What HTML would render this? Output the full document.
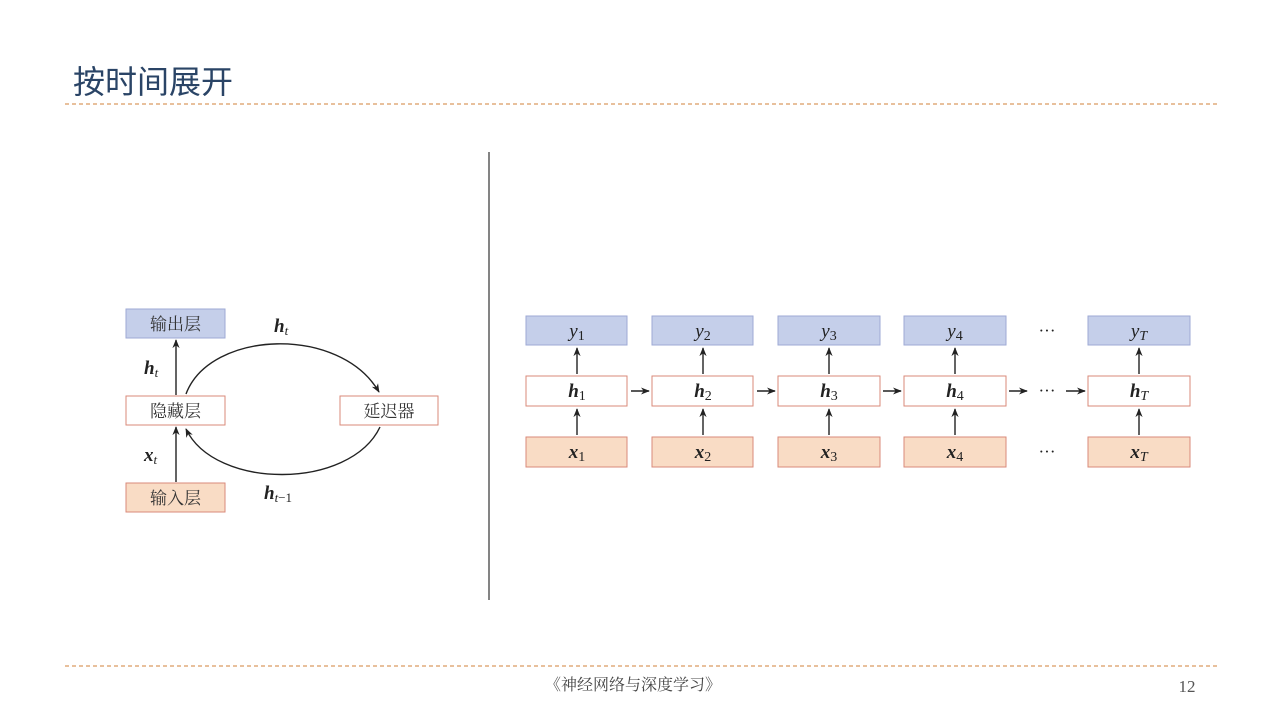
<!DOCTYPE html>
<html><head><meta charset="utf-8"><style>
html,body{margin:0;padding:0;background:#fff;width:1280px;height:720px;overflow:hidden}
svg{display:block}
.cn{font-family:"Noto Serif CJK SC","Liberation Serif",serif;font-size:17px;fill:#333}
.m{font-family:"Liberation Serif",serif;fill:#222}
</style></head><body>
<svg width="1280" height="720" viewBox="0 0 1280 720">
<defs>
<marker id="a" viewBox="0 0 10 10" refX="9" refY="5" markerWidth="9" markerHeight="9" orient="auto" markerUnits="userSpaceOnUse"><path d="M0,1 L10,5 L0,9 L3,5 z" fill="#222"/></marker>
</defs>
<text x="73" y="93" font-family="'Liberation Sans','Noto Sans CJK SC',sans-serif" font-size="32" fill="#2a4466">按时间展开</text>
<line x1="65" y1="104" x2="1217" y2="104" stroke="#d0803a" stroke-width="1" stroke-dasharray="4,3"/>
<line x1="65" y1="666" x2="1217" y2="666" stroke="#d0803a" stroke-width="1" stroke-dasharray="4,3"/>
<text x="633" y="690" text-anchor="middle" font-family="'Liberation Serif','Noto Serif CJK SC',serif" font-size="16" fill="#444">《神经网络与深度学习》</text>
<text x="1187" y="692" text-anchor="middle" font-family="'Liberation Serif',serif" font-size="17" fill="#555">12</text>
<line x1="489" y1="152" x2="489" y2="600" stroke="#333" stroke-width="1.2"/>

<rect x="126" y="309" width="99" height="29" fill="#c5cfea" stroke="#9eaad4"/>
<text x="175.5" y="330" text-anchor="middle" class="cn">输出层</text>
<rect x="126" y="396" width="99" height="29" fill="#fff" stroke="#d98a7a"/>
<text x="175.5" y="417" text-anchor="middle" class="cn">隐藏层</text>
<rect x="126" y="483" width="99" height="29" fill="#f9dcc5" stroke="#d98a7a"/>
<text x="175.5" y="504" text-anchor="middle" class="cn">输入层</text>
<rect x="340" y="396" width="98" height="29" fill="#fff" stroke="#d98a7a"/>
<text x="389" y="417" text-anchor="middle" class="cn">延迟器</text>
<line x1="176" y1="395" x2="176" y2="340" stroke="#222" stroke-width="1.4" marker-end="url(#a)"/>
<line x1="176" y1="482" x2="176" y2="427" stroke="#222" stroke-width="1.4" marker-end="url(#a)"/>
<path d="M186,394 C210,330 340,325 379,392" fill="none" stroke="#222" stroke-width="1.4" marker-end="url(#a)"/>
<path d="M380,427 C350,490 215,490 186,429" fill="none" stroke="#222" stroke-width="1.4" marker-end="url(#a)"/>
<text x="144" y="374" class="m" font-size="19" font-weight="bold" font-style="italic">h<tspan font-size="13" dy="3" font-weight="normal">t</tspan></text>
<text x="144" y="461" class="m" font-size="19" font-weight="bold" font-style="italic">x<tspan font-size="13" dy="3" font-weight="normal">t</tspan></text>
<text x="274" y="332" class="m" font-size="19" font-weight="bold" font-style="italic">h<tspan font-size="13" dy="3" font-weight="normal">t</tspan></text>
<text x="264" y="499" class="m" font-size="19" font-weight="bold" font-style="italic">h<tspan font-size="13" dy="3" font-weight="normal">t<tspan font-style="normal">−1</tspan></tspan></text>

<rect x="526" y="316" width="101" height="29" fill="#c5cfea" stroke="#9eaad4"/>
<rect x="526" y="376" width="101" height="30" fill="#fff" stroke="#d98a7a"/>
<rect x="526" y="437" width="101" height="30" fill="#f9dcc5" stroke="#d98a7a"/>
<rect x="652" y="316" width="101" height="29" fill="#c5cfea" stroke="#9eaad4"/>
<rect x="652" y="376" width="101" height="30" fill="#fff" stroke="#d98a7a"/>
<rect x="652" y="437" width="101" height="30" fill="#f9dcc5" stroke="#d98a7a"/>
<rect x="778" y="316" width="102" height="29" fill="#c5cfea" stroke="#9eaad4"/>
<rect x="778" y="376" width="102" height="30" fill="#fff" stroke="#d98a7a"/>
<rect x="778" y="437" width="102" height="30" fill="#f9dcc5" stroke="#d98a7a"/>
<rect x="904" y="316" width="102" height="29" fill="#c5cfea" stroke="#9eaad4"/>
<rect x="904" y="376" width="102" height="30" fill="#fff" stroke="#d98a7a"/>
<rect x="904" y="437" width="102" height="30" fill="#f9dcc5" stroke="#d98a7a"/>
<rect x="1088" y="316" width="102" height="29" fill="#c5cfea" stroke="#9eaad4"/>
<rect x="1088" y="376" width="102" height="30" fill="#fff" stroke="#d98a7a"/>
<rect x="1088" y="437" width="102" height="30" fill="#f9dcc5" stroke="#d98a7a"/>

<g stroke="#222" stroke-width="1.4">
<line x1="577" y1="374" x2="577" y2="348" marker-end="url(#a)"/>
<line x1="577" y1="435" x2="577" y2="409" marker-end="url(#a)"/>
<line x1="703" y1="374" x2="703" y2="348" marker-end="url(#a)"/>
<line x1="703" y1="435" x2="703" y2="409" marker-end="url(#a)"/>
<line x1="829" y1="374" x2="829" y2="348" marker-end="url(#a)"/>
<line x1="829" y1="435" x2="829" y2="409" marker-end="url(#a)"/>
<line x1="955" y1="374" x2="955" y2="348" marker-end="url(#a)"/>
<line x1="955" y1="435" x2="955" y2="409" marker-end="url(#a)"/>
<line x1="1139" y1="374" x2="1139" y2="348" marker-end="url(#a)"/>
<line x1="1139" y1="435" x2="1139" y2="409" marker-end="url(#a)"/>
<line x1="631" y1="391" x2="649" y2="391" marker-end="url(#a)"/>
<line x1="757" y1="391" x2="775" y2="391" marker-end="url(#a)"/>
<line x1="883" y1="391" x2="901" y2="391" marker-end="url(#a)"/>
<line x1="1009" y1="391" x2="1027" y2="391" marker-end="url(#a)"/>
<line x1="1066" y1="391" x2="1085" y2="391" marker-end="url(#a)"/>
</g>
<g class="m" font-size="17">
<text x="1047" y="336" text-anchor="middle">···</text>
<text x="1047" y="396" text-anchor="middle">···</text>
<text x="1047" y="457" text-anchor="middle">···</text>
</g>
<g class="m" font-size="19" font-style="italic" text-anchor="middle">
<text x="577" y="337">y<tspan font-size="14" font-style="normal" dy="3">1</tspan></text>
<text x="703" y="337">y<tspan font-size="14" font-style="normal" dy="3">2</tspan></text>
<text x="829" y="337">y<tspan font-size="14" font-style="normal" dy="3">3</tspan></text>
<text x="955" y="337">y<tspan font-size="14" font-style="normal" dy="3">4</tspan></text>
<text x="1139" y="337">y<tspan font-size="14" dy="3">T</tspan></text>
</g>
<g class="m" font-size="19" font-style="italic" font-weight="bold" text-anchor="middle">
<text x="577" y="397">h<tspan font-size="14" font-style="normal" font-weight="normal" dy="3">1</tspan></text>
<text x="703" y="397">h<tspan font-size="14" font-style="normal" font-weight="normal" dy="3">2</tspan></text>
<text x="829" y="397">h<tspan font-size="14" font-style="normal" font-weight="normal" dy="3">3</tspan></text>
<text x="955" y="397">h<tspan font-size="14" font-style="normal" font-weight="normal" dy="3">4</tspan></text>
<text x="1139" y="397">h<tspan font-size="14" font-weight="normal" dy="3">T</tspan></text>
<text x="577" y="458">x<tspan font-size="14" font-style="normal" font-weight="normal" dy="3">1</tspan></text>
<text x="703" y="458">x<tspan font-size="14" font-style="normal" font-weight="normal" dy="3">2</tspan></text>
<text x="829" y="458">x<tspan font-size="14" font-style="normal" font-weight="normal" dy="3">3</tspan></text>
<text x="955" y="458">x<tspan font-size="14" font-style="normal" font-weight="normal" dy="3">4</tspan></text>
<text x="1139" y="458">x<tspan font-size="14" font-weight="normal" dy="3">T</tspan></text>
</g>
</svg>
</body></html>
